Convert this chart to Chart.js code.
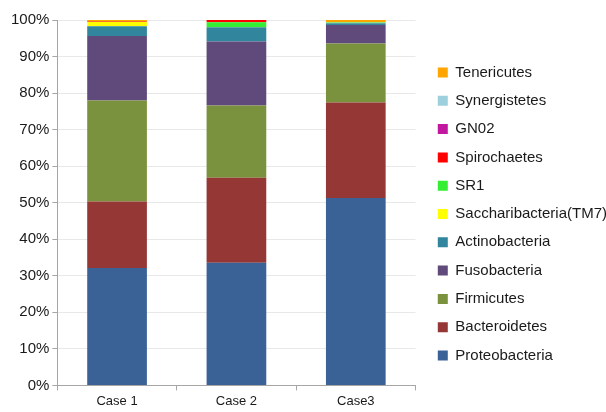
<!DOCTYPE html>
<html>
<head>
<meta charset="utf-8">
<script src="https://cdn.jsdelivr.net/npm/chart.js@4/dist/chart.umd.min.js"></script>
<style>
  html, body { margin: 0; padding: 0; background: #fff; }
  #wrap { width: 606px; height: 412px; }
</style>
</head>
<body>
<div id="wrap"><canvas id="c" width="606" height="412"></canvas></div>
<script>
// Relative abundance (%) of phyla per case
const cases = ['Case 1', 'Case 2', 'Case3'];
const proteobacteria   = [32.1, 33.6, 51.3];
const bacteroidetes    = [18.2, 23.2, 26.1];
const firmicutes       = [27.7, 19.8, 16.2];
const fusobacteria     = [17.6, 17.5, 5.0];
const actinobacteria   = [2.7, 3.9, 0.5];
const saccharibacteria = [1.2, 0.1, 0.1];
const sr1              = [0.0, 1.3, 0.1];
const spirochaetes     = [0.25, 0.6, 0.0];
const gn02             = [0.0, 0.0, 0.05];
const synergistetes    = [0.0, 0.0, 0.05];
const tenericutes      = [0.25, 0.0, 0.6];
const yTicks = [0, 10, 20, 30, 40, 50, 60, 70, 80, 90, 100];

const series = [
  ['Proteobacteria', proteobacteria, '#3b6297'],
  ['Bacteroidetes', bacteroidetes, '#953735'],
  ['Firmicutes', firmicutes, '#7a913d'],
  ['Fusobacteria', fusobacteria, '#604a7b'],
  ['Actinobacteria', actinobacteria, '#31859c'],
  ['Saccharibacteria(TM7)', saccharibacteria, '#ffff00'],
  ['SR1', sr1, '#33ee33'],
  ['Spirochaetes', spirochaetes, '#ff0000'],
  ['GN02', gn02, '#c2179f'],
  ['Synergistetes', synergistetes, '#9ecfdd'],
  ['Tenericutes', tenericutes, '#ffa500']
];

// Nudge the legend right of the plot (and slightly up) without changing its row spacing
const legendShift = {
  id: 'legendShift',
  afterLayout(chart) {
    if (chart.legend) {
      chart.legend.left += 9;
      chart.legend.right += 9;
      chart.legend.top -= 2;
      chart.legend.bottom -= 2;
    }
  }
};

new Chart(document.getElementById('c'), {
  type: 'bar',
  data: {
    labels: cases,
    datasets: series.map(([label, data, color]) => ({
      label, data,
      backgroundColor: color,
      borderWidth: 0,
      barPercentage: 0.5,
      categoryPercentage: 1.0
    }))
  },
  options: {
    responsive: false,
    animation: false,
    devicePixelRatio: 1,
    layout: { padding: { top: 20, bottom: 0, left: 8, right: -2 } },
    plugins: {
      legend: {
        position: 'right',
        reverse: true,
        maxWidth: 260,
        labels: {
          boxWidth: 10,
          boxHeight: 10,
          padding: 13.3,
          color: '#1a1a1a',
          font: { family: 'Liberation Sans, Arial, sans-serif', size: 15 }
        }
      },
      tooltip: { enabled: false }
    },
    scales: {
      x: {
        stacked: true,
        grid: { display: true, drawOnChartArea: false, drawTicks: true, tickLength: 5, color: '#a6a6a6', offset: true },
        border: { color: '#a6a6a6' },
        ticks: { color: '#1a1a1a', padding: 3, font: { family: 'Liberation Sans, Arial, sans-serif', size: 13 } }
      },
      y: {
        stacked: true,
        min: 0,
        max: 100,
        afterBuildTicks(scale) { scale.ticks = yTicks.map(v => ({ value: v })); },
        grid: { color: '#e8e8e8', tickColor: '#a6a6a6', tickLength: 5 },
        border: { color: '#a6a6a6' },
        ticks: {
          color: '#1a1a1a',
          padding: 3,
          font: { family: 'Liberation Sans, Arial, sans-serif', size: 15 },
          callback: v => v + '%'
        }
      }
    }
  },
  plugins: [legendShift]
});
</script>
</body>
</html>
